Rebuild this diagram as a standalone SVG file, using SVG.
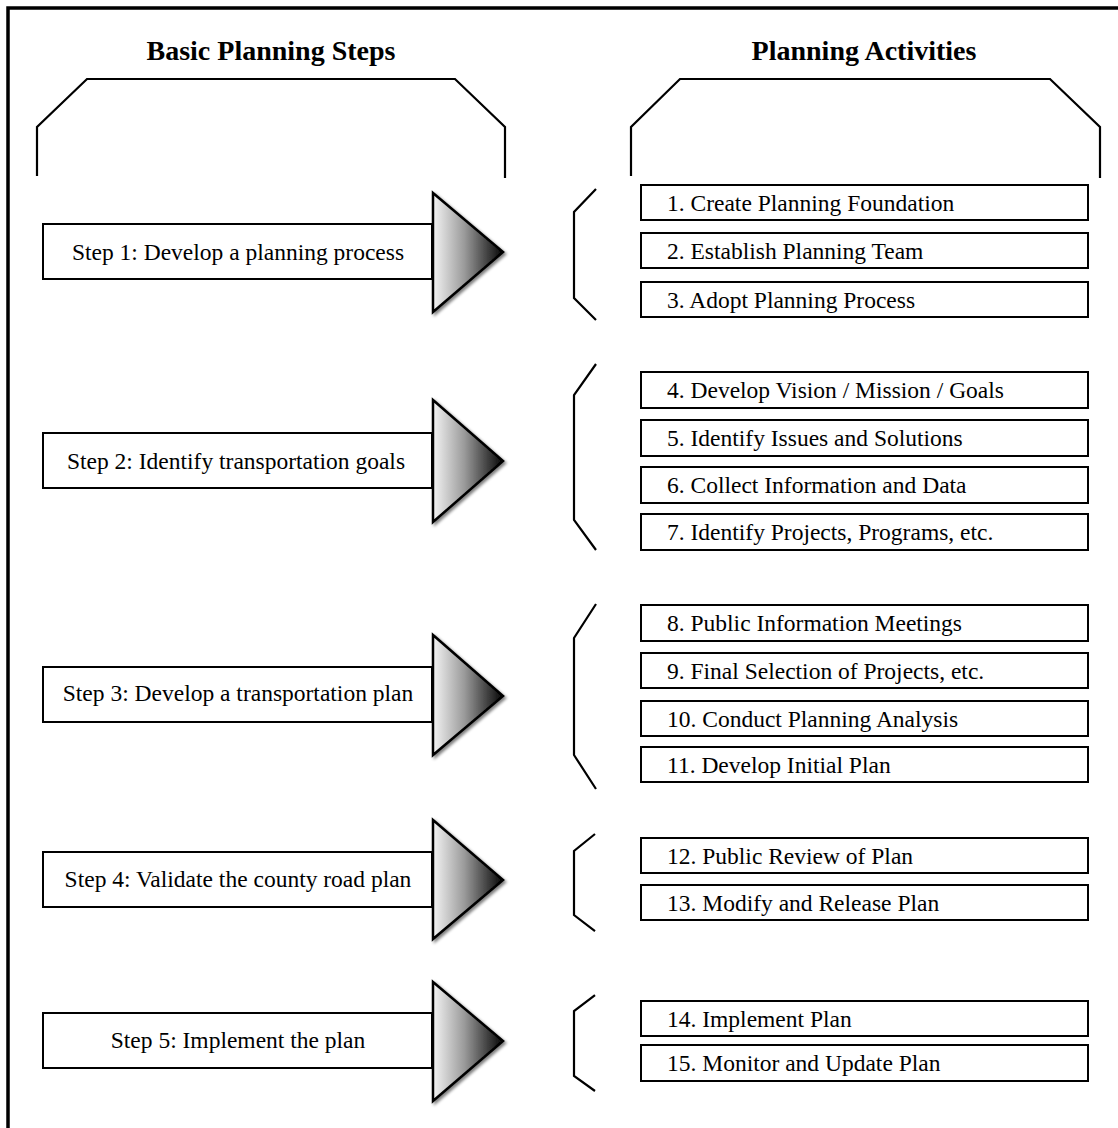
<svg xmlns="http://www.w3.org/2000/svg" width="1118" height="1128" viewBox="0 0 1118 1128">
  <style>
    .frame { fill: none; stroke: #000; stroke-width: 3.5; }
    .brace { fill: none; stroke: #000; stroke-width: 2.2; stroke-linejoin: miter; }
    .box { fill: #fff; stroke: #000; stroke-width: 2; }
    .head { font-family: "Liberation Serif", "Times New Roman", serif; font-size: 28px; font-weight: bold; fill: #000; text-anchor: middle; }
    .lbl { font-family: "Liberation Serif", "Times New Roman", serif; font-size: 23.5px; fill: #000; }
    .step { text-anchor: middle; }
    .tri { fill: url(#shade); stroke: #000; stroke-width: 2.5; stroke-linejoin: miter; filter: url(#soft); }
  </style>
  <defs>
    <linearGradient id="shade" x1="0" y1="0" x2="1" y2="0">
      <stop offset="0" stop-color="#f4f4f4"/>
      <stop offset="0.45" stop-color="#9a9a9a"/>
      <stop offset="1" stop-color="#050505"/>
    </linearGradient>
    <filter id="soft" x="-10%" y="-10%" width="130%" height="130%">
      <feGaussianBlur in="SourceAlpha" stdDeviation="1.5"/>
      <feOffset dx="1.5" dy="1.5" result="sh"/>
      <feComponentTransfer><feFuncA type="linear" slope="0.5"/></feComponentTransfer>
      <feMerge><feMergeNode/><feMergeNode in="SourceGraphic"/></feMerge>
    </filter>
  </defs>

  <rect width="1118" height="1128" fill="#fff"/>
  <!-- outer frame: top and left edges -->
  <polyline class="frame" points="8,1128 8,8 1118,8"/>

  <!-- column headings with their caps -->
  <g id="heading-steps">
    <text class="head" x="271" y="60">Basic Planning Steps</text>
    <polyline class="brace" points="37,176 37,127 87,79 455,79 505,127 505,178"/>
  </g>
  <g id="heading-activities">
    <text class="head" x="864" y="60">Planning Activities</text>
    <polyline class="brace" points="631,176 631,127 680,79 1050,79 1100,127 1100,178"/>
  </g>

  <!-- step arrows -->
  <g id="step1">
    <rect class="box" x="43" y="224" width="389" height="55"/>
    <polygon class="tri" points="433,193 503,252 433,312"/>
    <text class="lbl step" x="238" y="260">Step 1: Develop a planning process</text>
  </g>
  <g id="step2">
    <rect class="box" x="43" y="433" width="389" height="55"/>
    <polygon class="tri" points="433,400 503,461 433,522"/>
    <text class="lbl step" x="236" y="469">Step 2: Identify transportation goals</text>
  </g>
  <g id="step3">
    <rect class="box" x="43" y="667" width="389" height="55"/>
    <polygon class="tri" points="433,635 503,696 433,755"/>
    <text class="lbl step" x="238" y="701">Step 3: Develop a transportation plan</text>
  </g>
  <g id="step4">
    <rect class="box" x="43" y="852" width="389" height="55"/>
    <polygon class="tri" points="433,820 503,880 433,939"/>
    <text class="lbl step" x="238" y="887">Step 4: Validate the county road plan</text>
  </g>
  <g id="step5">
    <rect class="box" x="43" y="1013" width="389" height="55"/>
    <polygon class="tri" points="433,982 503,1041 433,1101"/>
    <text class="lbl step" x="238" y="1048">Step 5: Implement the plan</text>
  </g>

  <!-- braces linking each step to its activities -->
  <g id="connectors">
    <polyline class="brace" points="596,189 574,212 574,298 596,320"/>
    <polyline class="brace" points="596,364 574,395 574,520 596,550"/>
    <polyline class="brace" points="596,604 574,638 574,755 596,789"/>
    <polyline class="brace" points="595,834 574,851 574,915 595,931"/>
    <polyline class="brace" points="595,995 574,1011 574,1076 595,1091"/>
  </g>

  <!-- activities -->
  <g id="act1"><rect class="box" x="641" y="185" width="447" height="35"/><text class="lbl" x="667" y="211">1. Create Planning Foundation</text></g>
  <g id="act2"><rect class="box" x="641" y="233" width="447" height="35"/><text class="lbl" x="667" y="259">2. Establish Planning Team</text></g>
  <g id="act3"><rect class="box" x="641" y="282" width="447" height="35"/><text class="lbl" x="667" y="308">3. Adopt Planning Process</text></g>

  <g id="act4"><rect class="box" x="641" y="372" width="447" height="36"/><text class="lbl" x="667" y="398">4. Develop Vision / Mission / Goals</text></g>
  <g id="act5"><rect class="box" x="641" y="420" width="447" height="36"/><text class="lbl" x="667" y="446">5. Identify Issues and Solutions</text></g>
  <g id="act6"><rect class="box" x="641" y="467" width="447" height="36"/><text class="lbl" x="667" y="493">6. Collect Information and Data</text></g>
  <g id="act7"><rect class="box" x="641" y="514" width="447" height="36"/><text class="lbl" x="667" y="540">7. Identify Projects, Programs, etc.</text></g>

  <g id="act8"><rect class="box" x="641" y="605" width="447" height="36"/><text class="lbl" x="667" y="631">8. Public Information Meetings</text></g>
  <g id="act9"><rect class="box" x="641" y="653" width="447" height="35"/><text class="lbl" x="667" y="679">9. Final Selection of Projects, etc.</text></g>
  <g id="act10"><rect class="box" x="641" y="701" width="447" height="35"/><text class="lbl" x="667" y="727">10. Conduct Planning Analysis</text></g>
  <g id="act11"><rect class="box" x="641" y="747" width="447" height="35"/><text class="lbl" x="667" y="773">11. Develop Initial Plan</text></g>

  <g id="act12"><rect class="box" x="641" y="838" width="447" height="35"/><text class="lbl" x="667" y="864">12. Public Review of Plan</text></g>
  <g id="act13"><rect class="box" x="641" y="885" width="447" height="35"/><text class="lbl" x="667" y="911">13. Modify and Release Plan</text></g>

  <g id="act14"><rect class="box" x="641" y="1001" width="447" height="35"/><text class="lbl" x="667" y="1027">14. Implement Plan</text></g>
  <g id="act15"><rect class="box" x="641" y="1045" width="447" height="36"/><text class="lbl" x="667" y="1071">15. Monitor and Update Plan</text></g>
</svg>
